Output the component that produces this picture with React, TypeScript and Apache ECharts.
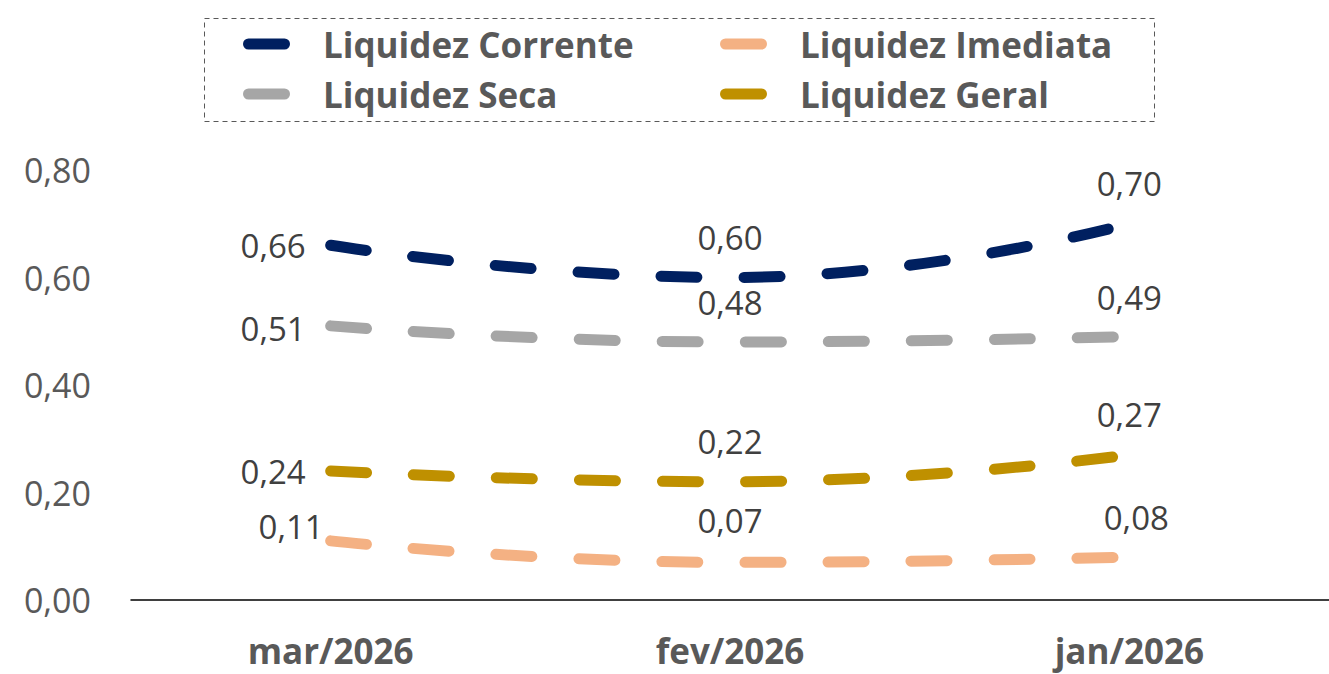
import React, { useEffect, useRef } from "react";
import * as echarts from "echarts";

const categories = ["mar/2026", "fev/2026", "jan/2026"];
const corrente = [0.66, 0.6, 0.7];
const seca = [0.51, 0.48, 0.49];
const imediata = [0.11, 0.07, 0.08];
const geral = [0.24, 0.22, 0.27];
const yTicks = { min: 0, max: 0.8, interval: 0.2 };

const FONT = "'Open Sans', 'Noto Sans', sans-serif";
const fmt = (v: number) => v.toFixed(2).replace(".", ",");

const ICON =
  "path://M5.5,0 L41.5,0 A5.5,5.5 0 0 1 41.5,11 L5.5,11 A5.5,5.5 0 0 1 5.5,0 Z";

type LabelCfg = { position: string; distance: number; offset?: number[] };

function makeData(values: number[], labels: LabelCfg[]) {
  return values.map((v, i) => ({
    value: v,
    label: {
      show: true,
      position: labels[i].position,
      distance: labels[i].distance,
      offset: labels[i].offset || [0, 0],
      formatter: (p: any) => fmt(p.value),
      color: "#404040",
      fontSize: 33,
      fontFamily: FONT,
      opacity: 1,
    },
  }));
}

function makeSeries(name: string, color: string, values: number[], labels: LabelCfg[]) {
  return {
    name,
    type: "line",
    smooth: true,
    showSymbol: true,
    symbol: "circle",
    symbolSize: 0,
    color,
    itemStyle: { color },
    lineStyle: { color, width: 11, type: [36, 47], cap: "round", join: "round" },
    data: makeData(values, labels),
    z: 3,
  };
}

export default function App() {
  const ref = useRef<HTMLDivElement>(null);
  useEffect(() => {
    document.body.style.margin = "0";
    const chart = echarts.init(ref.current!, null, { renderer: "svg" });
    const legendText = {
      color: "#595959",
      fontSize: 35,
      fontWeight: "bold",
      fontFamily: FONT,
      lineHeight: 40,
      padding: [0, 0, 0, 28],
    };
    const legendBase = {
      orient: "vertical",
      top: 19,
      itemGap: 10,
      itemWidth: 47,
      itemHeight: 11,
      icon: ICON,
      itemStyle: { borderWidth: 0, opacity: 1 },
      textStyle: legendText,
      selectedMode: false,
    };
    chart.setOption({
      animation: false,
      backgroundColor: "#ffffff",
      grid: { left: 131, right: 0, top: 170, bottom: 74, containLabel: false },
      legend: [
        { ...legendBase, left: 238, data: ["Liquidez Corrente", "Liquidez Seca"] },
        { ...legendBase, left: 715, data: ["Liquidez Imediata", "Liquidez Geral"] },
      ],
      graphic: [
        {
          type: "rect",
          shape: { x: 204.5, y: 18.5, width: 950, height: 103 },
          style: { fill: "none", stroke: "#595959", lineWidth: 1, lineDash: [5, 4] },
          silent: true,
        },
      ],
      xAxis: {
        type: "category",
        data: categories,
        boundaryGap: true,
        axisLine: { show: true, lineStyle: { color: "#000000", width: 1.5 } },
        axisTick: { show: false },
        axisLabel: {
          color: "#595959",
          fontSize: 35,
          fontWeight: "bold",
          fontFamily: FONT,
          lineHeight: 34,
          margin: 33,
        },
        splitLine: { show: false },
      },
      yAxis: {
        type: "value",
        min: yTicks.min,
        max: yTicks.max,
        interval: yTicks.interval,
        axisLine: { show: false },
        axisTick: { show: false },
        splitLine: { show: false },
        axisLabel: {
          color: "#595959",
          fontSize: 34,
          fontFamily: FONT,
          margin: 40,
          formatter: (v: number) => fmt(v),
        },
      },
      series: [
        makeSeries("Liquidez Corrente", "#002060", corrente, [
          { position: "left", distance: 25 },
          { position: "top", distance: 24 },
          { position: "top", distance: 24 },
        ]),
        makeSeries("Liquidez Seca", "#A6A6A6", seca, [
          { position: "left", distance: 25, offset: [0, 3] },
          { position: "top", distance: 23 },
          { position: "top", distance: 23 },
        ]),
        makeSeries("Liquidez Imediata", "#F4B183", imediata, [
          { position: "left", distance: 7, offset: [0, -14] },
          { position: "top", distance: 25 },
          { position: "top", distance: 23, offset: [7, 0] },
        ]),
        makeSeries("Liquidez Geral", "#BF9000", geral, [
          { position: "left", distance: 25 },
          { position: "top", distance: 24 },
          { position: "top", distance: 24 },
        ]),
      ],
    });
    return () => chart.dispose();
  }, []);
  return <div ref={ref} style={{ width: 1329, height: 674 }} />;
}
